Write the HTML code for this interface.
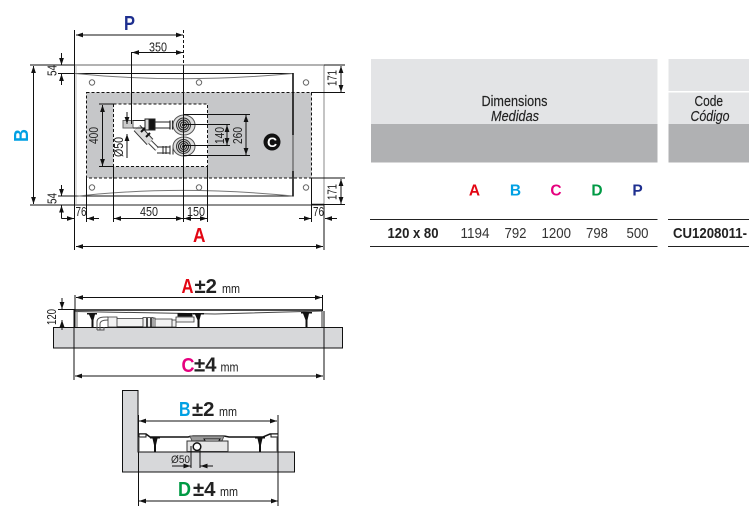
<!DOCTYPE html>
<html><head><meta charset="utf-8"><style>
html,body{margin:0;padding:0;background:#fff}
svg{display:block}
text{font-family:"Liberation Sans",sans-serif}
.d{font-size:12.5px;fill:#222}
.l{font-weight:bold;font-size:20px}
.p{font-size:20px;font-weight:bold;fill:#222}
.m{font-size:12.5px;fill:#222}
.h{font-size:14.5px;fill:#222;stroke:#222;stroke-width:.15px}
.r{font-size:15px;fill:#333}
.b{font-size:15px;font-weight:bold;fill:#222}
</style></head><body>
<svg width="749" height="531" viewBox="0 0 749 531" xmlns="http://www.w3.org/2000/svg">
<defs>
<marker id="a" viewBox="0 0 7 6" refX="7" refY="3" markerWidth="7" markerHeight="6" markerUnits="userSpaceOnUse" orient="auto-start-reverse"><path d="M0 0.6L7 3L0 5.4Z" fill="#111"/></marker>
</defs>
<rect width="749" height="531" fill="#fff"/>

<!-- top view -->
<rect x="74.500" y="65" width="249.500" height="140" fill="#fff"/>
<rect x="75" y="66" width="2" height="138" fill="#ddd"/>
<rect x="86.500" y="92.500" width="225" height="85.500" fill="#c6c7c9" stroke="#111" stroke-dasharray="3 2"/>
<rect x="113.500" y="104" width="94" height="62.500" fill="#fff" stroke="#111" stroke-dasharray="3 2"/>
<path d="M75 65H324" stroke="#999" stroke-width="1.500" fill="none"/>
<path d="M324 65V205" stroke="#888" fill="none"/>
<path d="M75 205H324" stroke="#222" fill="none"/>
<path d="M75 73.500H293" stroke="#111" fill="none"/>
<path d="M75 73.500C130 79 200 82 293 73.500" stroke="#777" fill="none"/>
<path d="M75 196H293" stroke="#111" fill="none"/>
<path d="M75 196.500C130 190 200 187 293 196" stroke="#777" fill="none"/>
<path d="M293 73V135" stroke="#111" stroke-width="1.600" fill="none"/>
<path d="M293 135V171" stroke="#777" stroke-width="1.600" fill="none"/>
<path d="M293 171V196.500" stroke="#111" stroke-width="1.600" fill="none"/>
<path d="M311 204.500H324" stroke="#111" stroke-width="1.500" fill="none"/>
<g fill="#fff" stroke="#666" stroke-width="1"><circle cx="92" cy="82.500" r="2.700"/><circle cx="199" cy="82.500" r="2.700"/><circle cx="306" cy="82.500" r="2.700"/><circle cx="92" cy="187.500" r="2.700"/><circle cx="199" cy="187.500" r="2.700"/><circle cx="306" cy="187.500" r="2.700"/></g>

<!-- valves -->
<g fill="none" stroke="#222" stroke-width="1">
<path d="M137 128L150 142" stroke-width="9" stroke="#333"/>
<path d="M137 128L150 142" stroke-width="7" stroke="#ddd"/>
<path d="M140 127L146 122" stroke="#fff" stroke-width="0"/>
<rect x="123" y="120.500" width="10" height="7.500" fill="#ccc" stroke="#666"/>
<path d="M133 120.500H148M133 128H148" />
<rect x="145" y="119" width="4" height="11" fill="#ddd"/>
<rect x="149" y="119" width="6" height="11" fill="#111"/>
<path d="M155 122H170M155 128H170" />
<path d="M170 120.500V129.500M172.500 120.500V129.500" stroke-width="1.200"/>
<path d="M141 132L145 128M146 137L150 133" stroke="#111" stroke-width="2"/>
<path d="M150 142L157 149" stroke="#444" stroke-width="5"/>
<path d="M150 142L157 149" stroke="#fff" stroke-width="3"/>
<path d="M157 147H170M157 153H170M163 146V154M166 146V154M170 145.500V154.500M173 145.500V154.500" />
<ellipse cx="184" cy="125" rx="11" ry="10" fill="#ddd" stroke="#555"/>
<circle cx="183.500" cy="125" r="7" fill="#ccc" stroke="#333"/>
<circle cx="183.500" cy="125" r="5" stroke="#222"/>
<circle cx="183.500" cy="125" r="3" stroke="#222"/>
<circle cx="183.500" cy="125" r="1.500" fill="#222" stroke="none"/>
<ellipse cx="184" cy="146.500" rx="11" ry="9.500" fill="#ddd" stroke="#555"/>
<circle cx="183.500" cy="146.500" r="7" fill="#ccc" stroke="#333"/>
<circle cx="183.500" cy="146.500" r="5" stroke="#222"/>
<circle cx="183.500" cy="146.500" r="3" stroke="#222"/>
<circle cx="183.500" cy="146.500" r="1.500" fill="#222" stroke="none"/>
</g>

<!-- top dims -->
<g fill="none" stroke="#111" stroke-width="1">
<path d="M74.500 30V250M324 205V250"/>
<path d="M183.500 30V64" stroke-dasharray="3 2"/>
<path d="M183.500 65V222"/>
<path d="M76 35H183" marker-start="url(#a)" marker-end="url(#a)"/>
<path d="M131.500 52V124"/>
<path d="M132 52.500H183" marker-start="url(#a)" marker-end="url(#a)"/>
<path d="M30 65H74M58 73.500H75M30 205H74M58 196H75"/>
<path d="M61.500 53V65" marker-end="url(#a)"/>
<path d="M61.500 85V74" marker-end="url(#a)"/>
<path d="M61.500 185V196" marker-end="url(#a)"/>
<path d="M61.500 218.500V205.500" marker-end="url(#a)"/>
<path d="M61.500 218.500H74" marker-end="url(#a)"/>
<path d="M33.500 66V204" marker-start="url(#a)" marker-end="url(#a)"/>
<path d="M86.500 178V222M113.500 166V222M207.500 166V222M311.500 178V222"/>
<path d="M99 218.500H87" marker-end="url(#a)"/>
<path d="M114 218.500H183" marker-start="url(#a)" marker-end="url(#a)"/>
<path d="M184 218.500H207" marker-start="url(#a)" marker-end="url(#a)"/>
<path d="M299 218.500H311" marker-end="url(#a)"/>
<path d="M337 218.500H325" marker-end="url(#a)"/>
<path d="M76 246.500H323" marker-start="url(#a)" marker-end="url(#a)"/>
<path d="M324 65H345M311 92.500H345M311 178H345M324 204.500H345"/>
<path d="M341 66V92" marker-start="url(#a)" marker-end="url(#a)"/>
<path d="M341 179V204" marker-start="url(#a)" marker-end="url(#a)"/>
<path d="M99 104H113M99 166.500H113"/>
<path d="M102.500 105V166" marker-start="url(#a)" marker-end="url(#a)"/>
<path d="M127 112V124" marker-end="url(#a)"/>
<path d="M127 158V134" marker-end="url(#a)"/>
<path d="M183 124.500H230M183 145.500H230M183 114.500H250M183 155.500H250"/>
<path d="M227 125V145" marker-start="url(#a)" marker-end="url(#a)"/>
<path d="M246 115V155" marker-start="url(#a)" marker-end="url(#a)"/>
</g>
<circle cx="272" cy="142" r="8.500" fill="#111"/>
<text x="272" y="147" text-anchor="middle" font-size="14" font-weight="bold" fill="#fff">C</text>

<text class="l" x="124" y="30" fill="#1e2f8f" textLength="11" lengthAdjust="spacingAndGlyphs">P</text>
<text class="l" x="193" y="242" fill="#e30613" textLength="12.500" lengthAdjust="spacingAndGlyphs">A</text>
<text class="l" transform="translate(28,142) rotate(-90)" fill="#00a0e3" textLength="13" lengthAdjust="spacingAndGlyphs">B</text>
<text class="d" x="149" y="51.500" textLength="18" lengthAdjust="spacingAndGlyphs">350</text>
<text class="d" transform="translate(56.500,76) rotate(-90)" textLength="11" lengthAdjust="spacingAndGlyphs">54</text>
<text class="d" transform="translate(56.500,204) rotate(-90)" textLength="11" lengthAdjust="spacingAndGlyphs">54</text>
<text class="d" x="75.500" y="216" textLength="11" lengthAdjust="spacingAndGlyphs">76</text>
<text class="d" x="313" y="216" textLength="11" lengthAdjust="spacingAndGlyphs">76</text>
<text class="d" x="140" y="216" textLength="18" lengthAdjust="spacingAndGlyphs">450</text>
<text class="d" x="187" y="216" textLength="18" lengthAdjust="spacingAndGlyphs">150</text>
<text class="d" transform="translate(336.500,86) rotate(-90)" textLength="16" lengthAdjust="spacingAndGlyphs">171</text>
<text class="d" transform="translate(336.500,200) rotate(-90)" textLength="16" lengthAdjust="spacingAndGlyphs">171</text>
<text class="d" transform="translate(98,144) rotate(-90)" textLength="17" lengthAdjust="spacingAndGlyphs">400</text>
<text class="d" transform="translate(123,157) rotate(-90)" textLength="20" lengthAdjust="spacingAndGlyphs">Ø50</text>
<text class="d" transform="translate(224,144) rotate(-90)" textLength="17" lengthAdjust="spacingAndGlyphs">140</text>
<text class="d" transform="translate(242,144) rotate(-90)" textLength="17" lengthAdjust="spacingAndGlyphs">260</text>

<!-- side view 1 -->
<rect x="53.500" y="327.500" width="289" height="20.500" fill="#d7d8da" stroke="#111"/>
<g fill="none" stroke="#111">
<path d="M75 295V327M74 310V380M322.500 295V311M324 311V380"/>
<path d="M76 297.500H322" marker-start="url(#a)" marker-end="url(#a)"/>
<path d="M75 376H323" marker-start="url(#a)" marker-end="url(#a)"/>
<path d="M58 309.500H75"/>
<path d="M62 298V309" marker-end="url(#a)"/>
<path d="M62 330V320" marker-end="url(#a)"/>
<path d="M75 310H323" stroke-width="1.500"/>
<path d="M75 311.500L215 314L322 311" stroke="#444"/>
<path d="M77 311V327" stroke="#666"/>
<path d="M322 311V327" stroke="#333"/>
<path d="M178 313.500H192V316H178Z" fill="#111"/>
<g fill="#111" stroke="none">
<path d="M87 313H97V314.500H95L93.500 320V327H91.500V320L89 314.500H87Z"/>
<path d="M193 313H204V314.500H201L199.500 320V327H197.500V320L195 314.500H193Z"/>
<path d="M301 312H312V313.500H309L307.500 320V327H305.500V320L303 313.500H301Z"/>
</g>
<path d="M97 330V322C97 317 102 317 108 317" stroke="#555" stroke-width="1"/>
<path d="M100 330V324C100 321 103 320 108 320" stroke="#555"/>
<path d="M97 330H104V327" stroke="#555"/>
<path d="M108 317H117V327H108ZM117 318.500H143V326.500H117ZM143 317.500H153V327H143ZM153 318H155V327H153ZM155 319H172V327H155ZM172 320H176V327H172ZM176 317H194V322H176Z" fill="#f2f2f2" stroke="#333" stroke-width=".8"/>
<path d="M147 318V327M151 318V327" stroke="#111" stroke-width="1.500"/>
</g>
<text class="l" x="181.500" y="293" fill="#e30613" textLength="12" lengthAdjust="spacingAndGlyphs">A</text>
<text class="p" x="194.500" y="293" textLength="22.500" lengthAdjust="spacingAndGlyphs">±2</text>
<text class="m" x="222" y="293" textLength="18" lengthAdjust="spacingAndGlyphs">mm</text>
<text class="l" x="181.500" y="372" fill="#e6007e" textLength="13" lengthAdjust="spacingAndGlyphs">C</text>
<text class="p" x="194" y="371.500" textLength="22.500" lengthAdjust="spacingAndGlyphs">±4</text>
<text class="m" x="220.500" y="371.500" textLength="18" lengthAdjust="spacingAndGlyphs">mm</text>
<text class="d" transform="translate(56,325) rotate(-90)" textLength="16" lengthAdjust="spacingAndGlyphs">120</text>

<!-- side view 2 -->
<path d="M122.500 390.500H138V452H294.500V472H122.500Z" fill="#d7d8da" stroke="#111"/>
<g fill="none" stroke="#111">
<path d="M138.500 415V506M278 415V506"/>
<path d="M139 421H277" marker-start="url(#a)" marker-end="url(#a)"/>
<path d="M139 501H278" marker-start="url(#a)" marker-end="url(#a)"/>
<path d="M139 434H146L150 437H188L193 436H224L229 437H263L270 434H278" stroke-width="1.500"/>
<rect x="139" y="434" width="7" height="3" fill="#fff"/>
<rect x="271" y="434" width="7" height="3" fill="#fff"/>
<path d="M190 436H224L222 441H192Z" fill="#999" stroke="#555"/>
<path d="M204 439H220L218 442H206Z" fill="#fff"/>
<rect x="187" y="441" width="41" height="10.500" fill="#e6e6e6" stroke="#333"/>
<path d="M196 441H222" stroke="#222"/>
<path d="M191 446V468M200 446V468"/>
<circle cx="197" cy="446.700" r="3.800" fill="#fff" stroke-width="1.500"/>
<path d="M172 466H190.500" marker-end="url(#a)"/>
<path d="M213 466H200.500" marker-end="url(#a)"/>
<path d="M139 437V452M277 437V452" stroke="#555"/>
<g fill="#111" stroke="none">
<path d="M150 437H160V438.500H157.500L156 445V452H154V445L152.500 438.500H150Z"/>
<path d="M255 437H265V438.500H262.500L261 445V452H259V445L257.500 438.500H255Z"/>
</g>
</g>
<text class="l" x="179" y="416" fill="#00a0e3" textLength="11.500" lengthAdjust="spacingAndGlyphs">B</text>
<text class="p" x="192" y="416" textLength="22.500" lengthAdjust="spacingAndGlyphs">±2</text>
<text class="m" x="219" y="416" textLength="18" lengthAdjust="spacingAndGlyphs">mm</text>
<text class="l" x="178" y="496" fill="#009a44" textLength="13" lengthAdjust="spacingAndGlyphs">D</text>
<text class="p" x="193" y="496" textLength="22.500" lengthAdjust="spacingAndGlyphs">±4</text>
<text class="m" x="220" y="496" textLength="18" lengthAdjust="spacingAndGlyphs">mm</text>
<text class="d" x="171" y="463" style="font-size:11px" textLength="19" lengthAdjust="spacingAndGlyphs">Ø50</text>

<!-- table -->
<rect x="371" y="59" width="286.500" height="65" fill="#e3e4e6"/>
<rect x="371" y="124" width="286.500" height="38.500" fill="#b0b1b3"/>
<rect x="668.500" y="59" width="80.500" height="32" fill="#e3e4e6"/>
<rect x="668.500" y="92.500" width="80.500" height="31.500" fill="#e3e4e6"/>
<rect x="668.500" y="124" width="80.500" height="38.500" fill="#b0b1b3"/>
<text class="h" x="481.500" y="106" textLength="66" lengthAdjust="spacingAndGlyphs">Dimensions</text>
<text class="h" x="491" y="121" font-style="italic" textLength="48" lengthAdjust="spacingAndGlyphs">Medidas</text>
<text class="h" x="694.500" y="106" textLength="28.500" lengthAdjust="spacingAndGlyphs">Code</text>
<text class="h" x="690.500" y="121" font-style="italic" textLength="39" lengthAdjust="spacingAndGlyphs">Código</text>
<g font-size="15.500" font-weight="bold" text-anchor="middle">
<text x="474.500" y="195.500" fill="#e30613">A</text>
<text x="515.500" y="195.500" fill="#00a0e3">B</text>
<text x="556" y="195.500" fill="#e6007e">C</text>
<text x="597" y="195.500" fill="#009a44">D</text>
<text x="637.500" y="195.500" fill="#1e2f8f">P</text>
</g>
<path d="M370 219.500H657.500M370 246.500H657.500M668 219.500H749M668 246.500H749" stroke="#222" fill="none"/>
<text class="b" x="387.500" y="238" textLength="51" lengthAdjust="spacingAndGlyphs">120 x 80</text>
<text class="r" x="460.500" y="238" textLength="29" lengthAdjust="spacingAndGlyphs">1194</text>
<text class="r" x="504.500" y="238" textLength="22" lengthAdjust="spacingAndGlyphs">792</text>
<text class="r" x="541.500" y="238" textLength="29.500" lengthAdjust="spacingAndGlyphs">1200</text>
<text class="r" x="586" y="238" textLength="22" lengthAdjust="spacingAndGlyphs">798</text>
<text class="r" x="626.500" y="238" textLength="22" lengthAdjust="spacingAndGlyphs">500</text>
<text class="b" x="673" y="238" textLength="74" lengthAdjust="spacingAndGlyphs">CU1208011-</text>
</svg>
</body></html>
